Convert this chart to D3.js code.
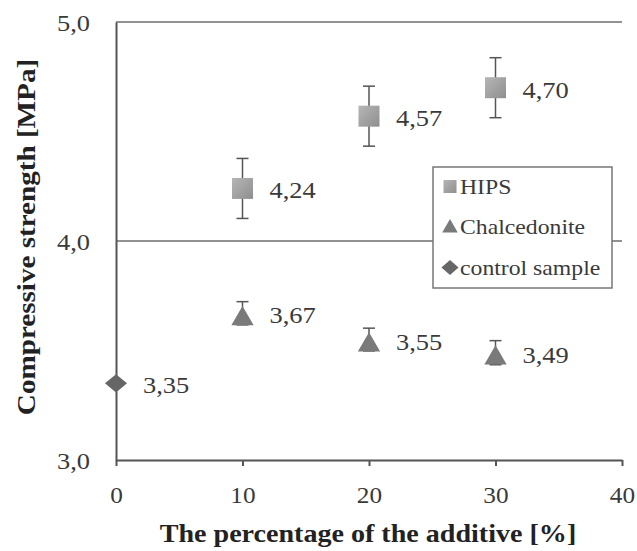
<!DOCTYPE html>
<html>
<head>
<meta charset="utf-8">
<script src="https://cdn.jsdelivr.net/npm/d3@7/dist/d3.min.js"></script>
<style>
  body { margin: 0; background: #fff; }
  svg text { font-family: "Liberation Serif", "Times New Roman", serif; }
</style>
</head>
<body>
<div id="chart"></div>
<script>
"use strict";

// Data
const percents = [10, 20, 30];
const hipsValues = [4.24, 4.57, 4.70];
const hipsErrors = [0.137, 0.137, 0.137];
const chalcValues = [3.67, 3.55, 3.49];
const chalcErrors = [0.053, 0.052, 0.055];
const controlPercent = [0];
const controlValues = [3.35];
const xTicks = [0, 10, 20, 30, 40];
const yTicks = [3, 4, 5];
const legendLabels = ["HIPS", "Chalcedonite", "control sample"];

const width = 637, height = 551;
const fmt = d3.format(".2f");
const comma = s => s.replace(".", ",");

// the source figure has slightly wide lettering
const stretch = 1.15;

let svg = d3.select("#chart").append("svg")
  .attr("width", width)
  .attr("height", height);

let defs = svg.append("defs");
let grad = defs.append("linearGradient")
  .attr("id", "sq")
  .attr("x1", 0).attr("y1", 0).attr("x2", 1).attr("y2", 1);
grad.append("stop").attr("offset", "0%").attr("stop-color", "#b6b6b6");
grad.append("stop").attr("offset", "100%").attr("stop-color", "#8e8e8e");

let x = d3.scaleLinear().domain([0, 40]).range([116, 622]);
let y = d3.scaleLinear().domain([3, 5]).range([460, 22]);

// Gridlines
svg.append("g")
  .selectAll("line")
  .data(yTicks.filter(t => t > 3))
  .join("line")
  .attr("x1", x(0)).attr("x2", x(40))
  .attr("y1", d => y(d)).attr("y2", d => y(d))
  .attr("stroke", "#6e6e6e")
  .attr("stroke-width", 1.5);

// X axis
let xAxis = svg.append("g")
  .attr("transform", "translate(0," + y(3) + ")")
  .call(d3.axisBottom(x).tickValues(xTicks).tickSize(6).tickSizeOuter(0).tickFormat(d3.format("d")));
xAxis.select(".domain").attr("stroke", "#555").attr("stroke-width", 2);
xAxis.selectAll(".tick line").attr("stroke", "#555").attr("stroke-width", 2);
xAxis.selectAll(".tick text")
  .attr("y", 0)
  .attr("dy", null)
  .attr("transform", "translate(0,43) scale(1.1,1)")
  .attr("font-family", "Liberation Serif")
  .attr("font-size", "23px")
  .attr("fill", "#3a3a3a");

// Y axis
let yAxis = svg.append("g")
  .attr("transform", "translate(" + x(0) + ",0)")
  .call(d3.axisLeft(y).tickValues(yTicks).tickSize(0).tickFormat(d => comma(d3.format(".1f")(d))));
yAxis.select(".domain").attr("stroke", "#555").attr("stroke-width", 2);
yAxis.selectAll(".tick text")
  .attr("x", 0)
  .attr("dy", null)
  .attr("transform", "translate(-26,8) scale(" + stretch + ",1)")
  .attr("font-family", "Liberation Serif")
  .attr("font-size", "23px")
  .attr("fill", "#3a3a3a");

// Axis titles
svg.append("text")
  .attr("transform", "translate(368,542) scale(1.08,1)")
  .attr("text-anchor", "middle")
  .attr("font-weight", "bold")
  .attr("font-size", "26px")
  .attr("fill", "#222")
  .text("The percentage of the additive [%]");

svg.append("text")
  .attr("transform", "translate(35,237) rotate(-90) scale(1.12,1)")
  .attr("text-anchor", "middle")
  .attr("font-weight", "bold")
  .attr("font-size", "26px")
  .attr("fill", "#222")
  .text("Compressive strength [MPa]");

// Error bars
function errorBars(cls, values, errors) {
  let g = svg.append("g").attr("class", cls);
  let rows = percents.map((p, i) => ({p: p, v: values[i], e: errors[i]}));
  g.selectAll("line.v").data(rows).join("line")
    .attr("x1", d => x(d.p)).attr("x2", d => x(d.p))
    .attr("y1", d => y(d.v + d.e)).attr("y2", d => y(d.v - d.e))
    .attr("stroke", "#555").attr("stroke-width", 1.5);
  g.selectAll("line.t").data(rows).join("line")
    .attr("x1", d => x(d.p) - 6).attr("x2", d => x(d.p) + 6)
    .attr("y1", d => y(d.v + d.e)).attr("y2", d => y(d.v + d.e))
    .attr("stroke", "#555").attr("stroke-width", 1.5);
  g.selectAll("line.b").data(rows).join("line")
    .attr("x1", d => x(d.p) - 6).attr("x2", d => x(d.p) + 6)
    .attr("y1", d => y(d.v - d.e)).attr("y2", d => y(d.v - d.e))
    .attr("stroke", "#555").attr("stroke-width", 1.5);
}
errorBars("hips-err", hipsValues, hipsErrors);
errorBars("chalc-err", chalcValues, chalcErrors);

// Markers
const squareSym = d3.symbol().type(d3.symbolSquare).size(441);
const triSym = d3.symbol().type(d3.symbolTriangle).size(215);
const diaSym = d3.symbol().type(d3.symbolDiamond).size(100);

svg.append("g").selectAll("path")
  .data(percents.map((p, i) => [p, hipsValues[i]]))
  .join("path")
  .attr("d", squareSym)
  .attr("transform", d => "translate(" + x(d[0]) + "," + y(d[1]) + ")")
  .attr("fill", "url(#sq)");

// triangle sits a little low, covering the lower half of its error bar
svg.append("g").selectAll("path")
  .data(percents.map((p, i) => [p, chalcValues[i]]))
  .join("path")
  .attr("d", triSym)
  .attr("transform", d => "translate(" + x(d[0]) + "," + (y(d[1]) + 5.5) + ")")
  .attr("fill", "#7a7a7a");

svg.append("g").selectAll("path")
  .data(controlPercent.map((p, i) => [p, controlValues[i]]))
  .join("path")
  .attr("d", diaSym)
  .attr("transform", d => "translate(" + x(d[0]) + "," + y(d[1]) + ") scale(2.05,0.97)")
  .attr("fill", "#666");

// Data labels
let allPoints = []
  .concat(percents.map((p, i) => [p, hipsValues[i]]))
  .concat(percents.map((p, i) => [p, chalcValues[i]]))
  .concat(controlPercent.map((p, i) => [p, controlValues[i]]));

svg.append("g").selectAll("text")
  .data(allPoints)
  .join("text")
  .attr("transform", d => "translate(" + (x(d[0]) + 27) + "," + (y(d[1]) + 10) + ") scale(" + stretch + ",1)")
  .attr("font-size", "23px")
  .attr("fill", "#3a3a3a")
  .text(d => comma(fmt(d[1])));

// Legend
let lg = svg.append("g").attr("transform", "translate(433,167)");
lg.append("rect")
  .attr("width", 179).attr("height", 121)
  .attr("fill", "#fff")
  .attr("stroke", "#777")
  .attr("stroke-width", 1.5);

const legendSyms = [
  {sym: d3.symbol().type(d3.symbolSquare).size(170), fill: "url(#sq)", sx: 1, sy: 1, dy: 0},
  {sym: d3.symbol().type(d3.symbolTriangle).size(105), fill: "#7a7a7a", sx: 1, sy: 1, dy: 1},
  {sym: d3.symbol().type(d3.symbolDiamond).size(70), fill: "#666", sx: 1.9, sy: 0.95, dy: 0}
];
let items = lg.selectAll("g.item")
  .data(legendLabels)
  .join("g")
  .attr("transform", (d, i) => "translate(0," + (19.5 + i * 40.5) + ")");
items.append("path")
  .attr("d", (d, i) => legendSyms[i].sym())
  .attr("transform", (d, i) => "translate(17," + legendSyms[i].dy + ") scale(" + legendSyms[i].sx + "," + legendSyms[i].sy + ")")
  .attr("fill", (d, i) => legendSyms[i].fill);
items.append("text")
  .attr("transform", "translate(27,7) scale(1.13,1)")
  .attr("font-size", "21px")
  .attr("fill", "#3a3a3a")
  .text(d => d);
</script>
</body>
</html>
